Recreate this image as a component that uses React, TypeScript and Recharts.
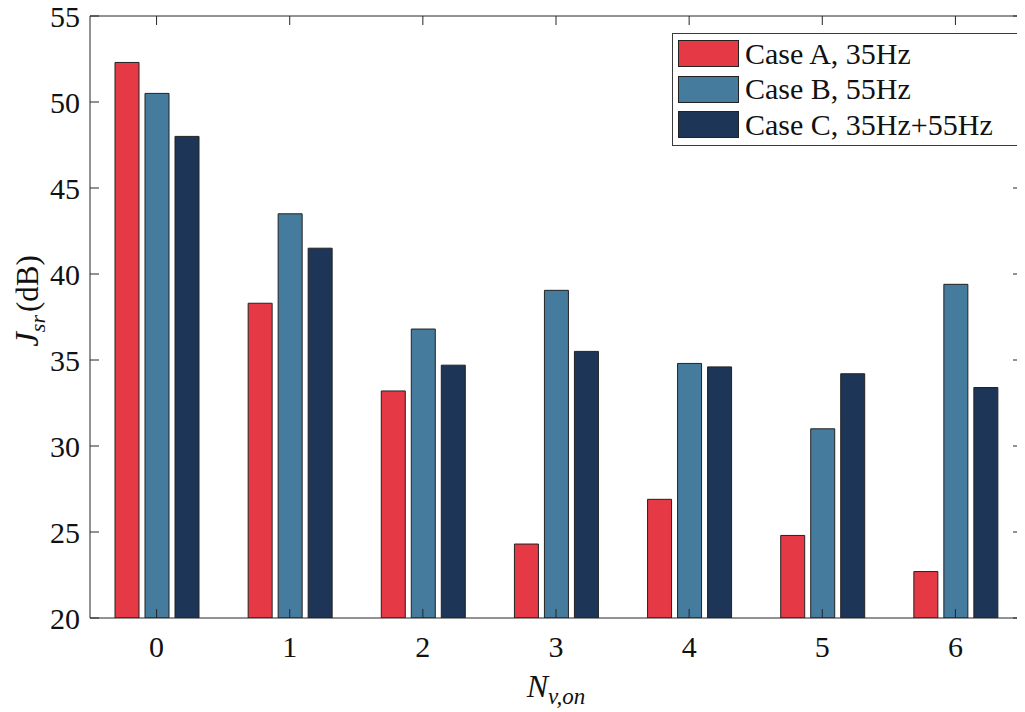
import React from "react";
import { BarChart, Bar, XAxis, YAxis, Legend } from "recharts";

const categories = ["0", "1", "2", "3", "4", "5", "6"];
const caseA = [52.3, 38.3, 33.2, 24.3, 26.9, 24.8, 22.7];
const caseB = [50.5, 43.5, 36.8, 39.05, 34.8, 31.0, 39.4];
const caseC = [48.0, 41.5, 34.7, 35.5, 34.6, 34.2, 33.4];
const yTicks = [20, 25, 30, 35, 40, 45, 50, 55];
const seriesNames = ["Case A, 35Hz", "Case B, 55Hz", "Case C, 35Hz+55Hz"];
const colors = ["#E63946", "#457B9D", "#1D3557"];

const data = categories.map((c, i) => ({ n: c, a: caseA[i], b: caseB[i], c: caseC[i] }));

const FONT = "'Liberation Serif', 'Times New Roman', serif";
const AXIS = "#262626";
const TICK_LEN = 9;

const LeftTick = (p: any) => (
  <g>
    <line x1={p.x + 10} x2={p.x + 10 + TICK_LEN} y1={p.y} y2={p.y} stroke={AXIS} strokeWidth={1} />
    <text x={p.x} y={p.y} dy="0.35em" textAnchor="end" fontFamily={FONT} fontSize={30} fill="#111">
      {p.payload.value}
    </text>
  </g>
);
const RightTick = (p: any) => (
  <line x1={p.x} x2={p.x - TICK_LEN} y1={p.y} y2={p.y} stroke={AXIS} strokeWidth={1} />
);
const BottomTick = (p: any) => (
  <g>
    <line x1={p.x} x2={p.x} y1={p.y - 17} y2={p.y - 17 - TICK_LEN} stroke={AXIS} strokeWidth={1} />
    <text x={p.x} y={p.y} dy="0.72em" textAnchor="middle" fontFamily={FONT} fontSize={30} fill="#111">
      {p.payload.value}
    </text>
  </g>
);
const TopTick = (p: any) => (
  <line x1={p.x} x2={p.x} y1={p.y} y2={p.y + TICK_LEN} stroke={AXIS} strokeWidth={1} />
);

const YLabel = (props: any) => {
  const vb = props.viewBox;
  const cx = vb.x + vb.width - 52;
  const cy = vb.y + vb.height / 2 - 16;
  return (
    <text
      x={cx}
      y={cy}
      transform={`rotate(-90, ${cx}, ${cy})`}
      textAnchor="middle"
      fontFamily={FONT}
      fill="#111"
      fontSize={31}
    >
      <tspan fontStyle="italic" fontSize={33}>J</tspan>
      <tspan fontStyle="italic" fontSize={22} dy={7}>sr</tspan>
      <tspan dy={-7} dx={3}>(dB)</tspan>
    </text>
  );
};

const XLabel = (props: any) => {
  const vb = props.viewBox;
  const cx = vb.x + vb.width / 2;
  const cy = vb.y + 79;
  return (
    <text x={cx} y={cy} textAnchor="middle" fontFamily={FONT} fill="#111" fontSize={32}>
      <tspan fontStyle="italic">N</tspan>
      <tspan fontStyle="italic" fontSize={23} dy={7}>v,on</tspan>
    </text>
  );
};

const LegendBox = (props: any) => {
  const payload = props.payload || [];
  return (
    <div
      style={{
        border: "1px solid #3a3a3a",
        background: "#fff",
        padding: "2px 6px 2px 5px",
        fontFamily: FONT,
        fontSize: 30,
        color: "#111",
      }}
    >
      {payload.map((e: any, i: number) => (
        <div key={i} style={{ display: "flex", alignItems: "center", height: 35.5 }}>
          <div
            style={{
              width: 59,
              height: 25,
              background: e.color,
              border: "1px solid #222",
              marginRight: 6,
              flexShrink: 0,
            }}
          />
          <span style={{ whiteSpace: "nowrap", lineHeight: "30px" }}>{e.value}</span>
        </div>
      ))}
    </div>
  );
};

export default function App() {
  return (
    <div style={{ width: 1017, height: 704, fontFamily: FONT }}>
      <BarChart
        width={1017}
        height={704}
        data={data}
        margin={{ top: 7, right: 2, bottom: 93, left: 81 }}
        barSize={24}
        barGap={6}
      >
        <XAxis
          dataKey="n"
          xAxisId="bottom"
          height={1}
          tickSize={0}
          tickMargin={17}
          tick={BottomTick}
          axisLine={{ stroke: AXIS, strokeWidth: 1 }}
          tickLine={false}
          interval={0}
          label={<XLabel />}
        />
        <XAxis
          dataKey="n"
          xAxisId="top"
          orientation="top"
          height={1}
          tickSize={0}
          tickMargin={0}
          tick={TopTick}
          axisLine={{ stroke: AXIS, strokeWidth: 1 }}
          tickLine={false}
          interval={0}
        />
        <YAxis
          yAxisId="left"
          type="number"
          domain={[20, 55]}
          ticks={yTicks}
          allowDataOverflow
          width={1}
          tickSize={0}
          tickMargin={10}
          tick={LeftTick}
          axisLine={{ stroke: AXIS, strokeWidth: 1 }}
          tickLine={false}
          interval={0}
          label={<YLabel />}
        />
        <YAxis
          yAxisId="right"
          orientation="right"
          type="number"
          domain={[20, 55]}
          ticks={yTicks}
          allowDataOverflow
          width={1}
          tickSize={0}
          tickMargin={0}
          tick={RightTick}
          axisLine={{ stroke: AXIS, strokeWidth: 1 }}
          tickLine={false}
          interval={0}
        />
        <Legend
          layout="vertical"
          align="center"
          verticalAlign="middle"
          content={<LegendBox />}
          wrapperStyle={{ top: 25, left: 664, width: 346 }}
        />
        <Bar dataKey="a" name={seriesNames[0]} xAxisId="bottom" yAxisId="left" fill={colors[0]} stroke="#222" strokeWidth={1} isAnimationActive={false} />
        <Bar dataKey="b" name={seriesNames[1]} xAxisId="bottom" yAxisId="left" fill={colors[1]} stroke="#222" strokeWidth={1} isAnimationActive={false} />
        <Bar dataKey="c" name={seriesNames[2]} xAxisId="bottom" yAxisId="left" fill={colors[2]} stroke="#222" strokeWidth={1} isAnimationActive={false} />
      </BarChart>
    </div>
  );
}
